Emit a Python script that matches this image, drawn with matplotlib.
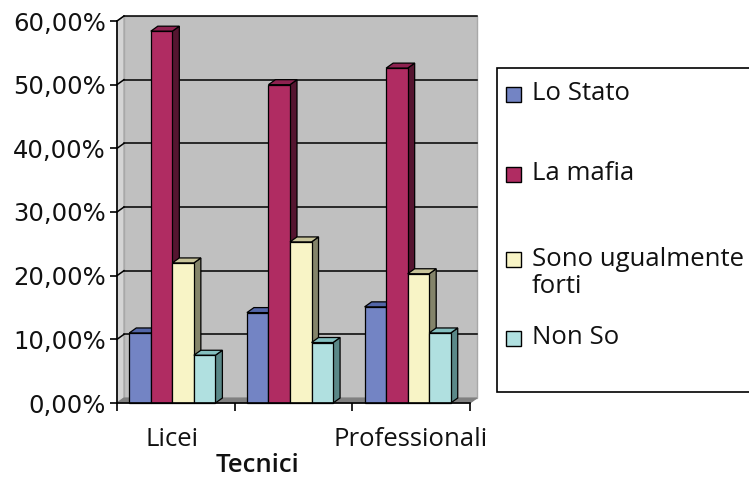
import matplotlib
matplotlib.use("Agg")
import matplotlib.pyplot as plt
from matplotlib.patches import Polygon, Rectangle

# ---- data ----
categories = ["Licei", "Tecnici", "Professionali"]
series_names = ["Lo Stato", "La mafia", "Sono ugualmente\nforti", "Non So"]
lo_stato = [11.0, 14.2, 15.1]
la_mafia = [58.4, 50.0, 52.6]
ugualmente = [22.0, 25.3, 20.3]
non_so = [7.5, 9.5, 11.0]
series_values = [lo_stato, la_mafia, ugualmente, non_so]
yticks = [0, 10, 20, 30, 40, 50, 60]
ytick_labels = ["0,00%", "10,00%", "20,00%", "30,00%", "40,00%", "50,00%", "60,00%"]

front_colors = ["#7384c4", "#b02c62", "#f8f4c6", "#b0e0e0"]
top_colors = ["#5366a8", "#8e2250", "#c8c49a", "#84c0c0"]
side_colors = ["#3d4c80", "#551530", "#84846a", "#5a8888"]

W, H = 749, 478
fig = plt.figure(figsize=(W / 100, H / 100), dpi=100)
fig.patch.set_facecolor("white")

x0, x1, y0, y1 = 117, 470, 403, 21
ax = fig.add_axes([x0 / W, 1 - y0 / H, (x1 - x0) / W, (y0 - y1) / H])
ax.set_xlim(0, 3)
ax.set_ylim(0, 60)
ax.set_facecolor("none")
for s in ["top", "right"]:
    ax.spines[s].set_visible(False)
ax.spines["left"].set_linewidth(1.2)
ax.spines["bottom"].set_linewidth(1.2)

# depth of the 3D effect in data units
dx = 7 / ((x1 - x0) / 3)
dy = 5 * 60 / (y0 - y1)

# walls
ax.add_patch(Polygon([(dx, dy), (3 + dx, dy), (3 + dx, 60 + dy), (dx, 60 + dy)],
                     closed=True, facecolor="#c0c0c0", edgecolor="#a8a8a8",
                     lw=1, zorder=0, clip_on=False))
ax.add_patch(Polygon([(0, 0), (dx, dy), (dx, 60 + dy), (0, 60)],
                     closed=True, facecolor="#d4d4d4", edgecolor="#a8a8a8",
                     lw=1, zorder=0, clip_on=False))
ax.add_patch(Polygon([(0, 0), (3, 0), (3 + dx, dy), (dx, dy)],
                     closed=True, facecolor="#808080", edgecolor="#808080",
                     lw=0.8, zorder=0.5, clip_on=False))

# gridlines on back wall
for t in yticks[1:]:
    ax.plot([dx, 3 + dx], [t + dy, t + dy], color="black", lw=1.1,
            zorder=0.6, clip_on=False)
    ax.plot([0, dx], [t, t + dy], color="black", lw=1.1,
            zorder=0.6, clip_on=False)

# bars
w = 0.183
n = len(series_values)
for i in range(len(categories)):
    start = i + 0.5 - n * w / 2 - dx / 2
    for k in range(n):
        v = series_values[k][i]
        xl = start + k * w
        xr = xl + w
        z = 2 + k * 0.1 + i
        ax.add_patch(Polygon([(xr, 0), (xr + dx, dy), (xr + dx, v + dy), (xr, v)],
                             closed=True, facecolor=side_colors[k],
                             edgecolor="black", lw=0.9, zorder=z, clip_on=False))
        ax.add_patch(Polygon([(xl, v), (xr, v), (xr + dx, v + dy), (xl + dx, v + dy)],
                             closed=True, facecolor=top_colors[k],
                             edgecolor="black", lw=0.9, zorder=z, clip_on=False))
        ax.add_patch(Rectangle((xl, 0), w, v, facecolor=front_colors[k],
                               edgecolor="black", lw=0.9, zorder=z + 0.01,
                               clip_on=False))

# axes ticks
ax.set_yticks(yticks)
ax.set_yticklabels(ytick_labels, fontsize=17.5, family="DejaVu Sans", color="#111111")
ax.tick_params(axis="y", direction="out", length=5, width=1.2, pad=3)
ax.set_xticks([0, 1, 2, 3])
ax.set_xticklabels([])
ax.tick_params(axis="x", direction="out", length=6, width=1.2)
for sp in ["left", "bottom"]:
    ax.spines[sp].set_zorder(10)

# category labels (staggered like the reference)
label_pos = [(172, 440), (258, 465), (411, 440)]
for lab, (px, py) in zip(categories, label_pos):
    fig.text(px / W, 1 - py / H, lab, ha="center", va="center",
             fontsize=18.5, family="Open Sans", color="#111111",
             weight="semibold" if lab == "Tecnici" else "normal")

# legend box
fig.patches.append(Rectangle((497 / W, 1 - 392 / H), 1.02 - 497 / W,
                             (392 - 68) / H, transform=fig.transFigure,
                             facecolor="white", edgecolor="black", lw=1.2))
legend_y = [94, 174, 273, 338]
for k, (name, ly) in enumerate(zip(series_names, legend_y)):
    sq_y = ly if k != 2 else 259
    fig.patches.append(Rectangle((506 / W, 1 - (sq_y + 7.5) / H), 15 / W, 15 / H,
                                 transform=fig.transFigure,
                                 facecolor=front_colors[k], edgecolor="black", lw=1))
    fig.text(532 / W, 1 - ly / H, name, ha="left", va="center",
             fontsize=18.5, family="Open Sans", color="#111111",
             linespacing=1.1)

fig.savefig("out.png", dpi=100)
